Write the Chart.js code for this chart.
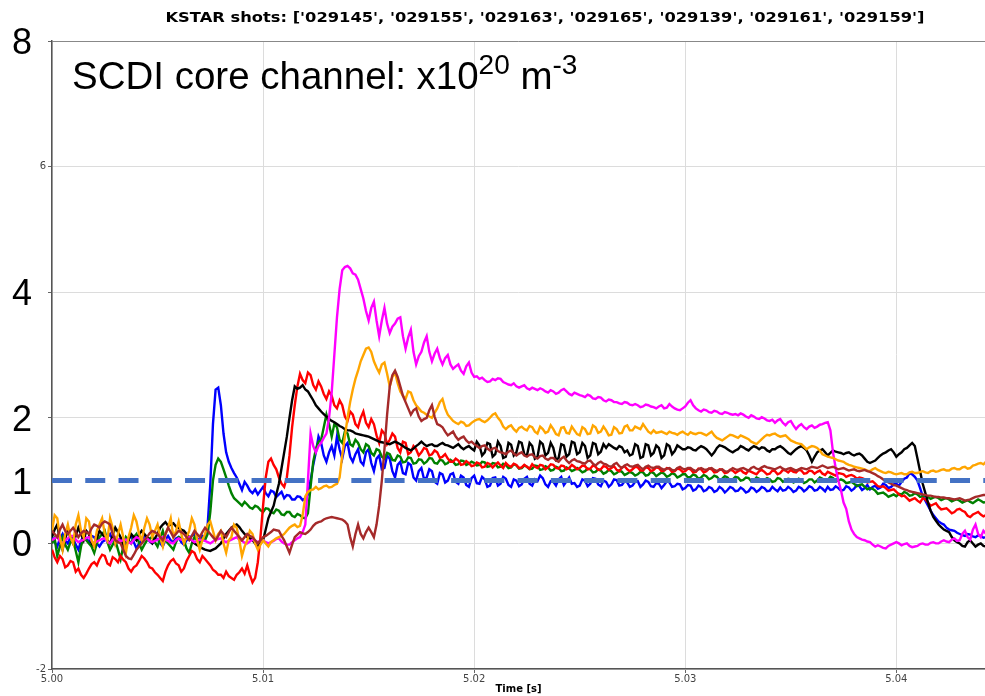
<!DOCTYPE html>
<html>
<head>
<meta charset="utf-8">
<script src="https://cdn.jsdelivr.net/npm/chart.js@4.4.1/dist/chart.umd.min.js"></script>
<style>
  html, body { margin: 0; padding: 0; background: #ffffff; }
  #wrap { width: 985px; height: 696px; position: relative; }
  canvas { display: block; }
</style>
</head>
<body>
<div id="wrap"><canvas id="chart" width="985" height="696"></canvas></div>
<script>
// Line-integrated core density from the SCDI core channel, one trace per KSTAR shot.
const shots = ['029145', '029155', '029163', '029165', '029139', '029161', '029159'];

// Common sampling: 5.000 s onward, one sample every 0.125 ms.
const tStart = 5.0;
const tStep = 0.000125;

const shot029145 = [ // blue
  0.10, 0.02, -0.05, 0.08, 0.15, 0.05, 0.00, 0.10, 0.08, -0.02, -0.10, 0.04, 0.12, 0.08, 0.02, 0.12, 0.10, 0.00, -0.05, 0.02,
  0.05, 0.10, 0.15, 0.05, -0.02, 0.06, 0.08, 0.02, 0.00, 0.08, 0.12, 0.02, -0.08, 0.00, 0.05, 0.12, 0.10, 0.03, 0.00, 0.05,
  0.07, 0.00, -0.05, 0.06, 0.12, 0.05, 0.03, 0.08, 0.10, 0.02, -0.02, 0.05, 0.08, 0.12, 0.15, 0.08, 0.05, 0.12, 0.10, 0.30,
  0.95, 1.90, 2.45, 2.48, 2.20, 1.75, 1.45, 1.30, 1.20, 1.12, 1.05, 0.95, 0.85, 0.98, 0.92, 0.84, 0.80, 0.86, 0.78, 0.84,
  0.90, 0.80, 0.75, 0.84, 0.82, 0.74, 0.78, 0.82, 0.72, 0.77, 0.76, 0.70, 0.70, 0.75, 0.74, 0.69, 0.72, 0.78, 1.00, 1.25,
  1.45, 1.70, 1.60, 1.40, 1.30, 1.45, 1.55, 1.40, 1.70, 1.50, 1.35, 1.55, 1.60, 1.38, 1.30, 1.42, 1.50, 1.30, 1.25, 1.45,
  1.50, 1.28, 1.15, 1.35, 1.40, 1.18, 1.20, 1.40, 1.35, 1.15, 1.05, 1.25, 1.30, 1.12, 1.10, 1.28, 1.25, 1.05, 1.00, 1.15,
  1.20, 1.02, 1.05, 1.18, 1.15, 0.98, 0.95, 1.12, 1.10, 0.97, 1.00, 1.10, 1.12, 0.98, 0.95, 1.08, 1.05, 0.93, 0.90, 1.04,
  1.08, 0.96, 0.95, 1.06, 1.02, 0.90, 0.92, 1.04, 1.05, 0.92, 0.95, 1.06, 1.03, 0.93, 0.90, 1.02, 1.00, 0.91, 0.94, 1.03,
  1.06, 0.95, 0.92, 1.02, 0.99, 1.08, 1.04, 0.94, 0.90, 0.99, 0.98, 0.92, 1.02, 1.06, 0.93, 0.99, 1.05, 0.95, 0.96, 0.90,
  0.92, 1.02, 1.00, 0.91, 0.95, 1.04, 1.03, 0.94, 0.91, 1.00, 0.98, 0.90, 0.94, 1.02, 1.01, 0.92, 0.93, 0.99, 0.97, 0.90,
  0.92, 0.98, 0.99, 0.90, 0.94, 1.00, 0.98, 0.91, 0.90, 0.96, 0.95, 0.88, 0.93, 0.99, 0.97, 0.90, 0.91, 0.95, 0.94, 0.86,
  0.88, 0.93, 0.92, 0.84, 0.86, 0.92, 0.90, 0.83, 0.85, 0.90, 0.88, 0.82, 0.84, 0.90, 0.87, 0.81, 0.85, 0.90, 0.88, 0.83,
  0.84, 0.89, 0.86, 0.81, 0.83, 0.89, 0.87, 0.82, 0.85, 0.90, 0.88, 0.83, 0.84, 0.90, 0.86, 0.83, 0.89, 0.84, 0.85, 0.90,
  0.87, 0.82, 0.84, 0.90, 0.88, 0.83, 0.86, 0.91, 0.89, 0.84, 0.85, 0.90, 0.87, 0.83, 0.90, 0.85, 0.86, 0.91, 0.88, 0.84,
  0.85, 0.91, 0.89, 0.84, 0.87, 0.93, 0.91, 0.85, 0.88, 0.93, 0.86, 0.90, 0.92, 0.87, 0.89, 0.95, 0.93, 0.88, 0.90, 0.94,
  0.95, 0.92, 0.98, 1.03, 1.05, 1.12, 1.10, 1.06, 1.00, 0.88, 0.75, 0.68, 0.60, 0.52, 0.45, 0.40, 0.35, 0.32, 0.30, 0.25,
  0.22, 0.21, 0.20, 0.17, 0.15, 0.13, 0.12, 0.15, 0.14, 0.11, 0.10, 0.13, 0.12, 0.09, 0.10, 0.12
];

const shot029155 = [ // green
  0.00, 0.08, -0.20, -0.05, 0.10, -0.02, -0.10, 0.02, 0.05, -0.12, -0.30, -0.05, 0.10, 0.05, 0.00, -0.05, -0.15, 0.00, 0.10, 0.15,
  0.20, 0.02, -0.10, -0.02, 0.05, -0.10, -0.25, -0.05, 0.10, 0.05, 0.00, 0.10, 0.15, 0.00, -0.10, -0.02, 0.05, 0.08, 0.10, 0.02,
  -0.05, 0.08, 0.20, 0.05, 0.00, -0.05, -0.10, 0.02, 0.10, 0.08, 0.05, -0.08, -0.15, 0.00, 0.10, 0.05, 0.00, 0.08, 0.05, 0.15,
  0.50, 1.00, 1.25, 1.35, 1.30, 1.18, 1.05, 0.92, 0.80, 0.72, 0.68, 0.64, 0.60, 0.66, 0.62, 0.57, 0.55, 0.60, 0.58, 0.53,
  0.50, 0.56, 0.55, 0.50, 0.48, 0.54, 0.52, 0.46, 0.45, 0.50, 0.50, 0.44, 0.42, 0.47, 0.45, 0.41, 0.40, 0.48, 0.90, 1.30,
  1.50, 1.62, 1.65, 1.85, 2.05, 1.90, 1.70, 1.90, 1.85, 1.65, 1.60, 1.78, 1.75, 1.58, 1.55, 1.65, 1.60, 1.50, 1.45, 1.58,
  1.55, 1.44, 1.40, 1.50, 1.48, 1.38, 1.35, 1.44, 1.42, 1.33, 1.32, 1.40, 1.38, 1.29, 1.30, 1.37, 1.36, 1.27, 1.28, 1.34,
  1.33, 1.27, 1.30, 1.36, 1.35, 1.28, 1.27, 1.33, 1.32, 1.26, 1.28, 1.33, 1.30, 1.25, 1.26, 1.32, 1.31, 1.25, 1.27, 1.30,
  1.28, 1.24, 1.25, 1.30, 1.29, 1.22, 1.23, 1.28, 1.27, 1.21, 1.22, 1.27, 1.25, 1.20, 1.21, 1.26, 1.24, 1.19, 1.20, 1.24,
  1.22, 1.18, 1.19, 1.24, 1.23, 1.17, 1.18, 1.23, 1.21, 1.16, 1.17, 1.22, 1.20, 1.15, 1.16, 1.21, 1.19, 1.15, 1.17, 1.20,
  1.17, 1.13, 1.15, 1.19, 1.18, 1.13, 1.14, 1.18, 1.16, 1.11, 1.13, 1.17, 1.15, 1.10, 1.12, 1.16, 1.14, 1.09, 1.11, 1.14,
  1.12, 1.08, 1.10, 1.14, 1.13, 1.08, 1.09, 1.14, 1.12, 1.07, 1.10, 1.13, 1.11, 1.06, 1.08, 1.12, 1.10, 1.05, 1.07, 1.10,
  1.10, 1.05, 1.06, 1.10, 1.08, 1.03, 1.05, 1.09, 1.07, 1.02, 1.04, 1.08, 1.06, 1.01, 1.03, 1.07, 1.05, 1.00, 1.02, 1.06,
  1.05, 1.00, 1.01, 1.05, 1.04, 0.99, 1.00, 1.05, 1.03, 0.99, 1.01, 1.04, 1.02, 0.98, 0.99, 1.04, 1.03, 0.98, 1.00, 1.03,
  1.02, 0.97, 0.99, 1.03, 1.01, 0.96, 0.98, 1.02, 1.02, 0.97, 1.00, 1.05, 1.03, 0.99, 1.01, 1.06, 1.04, 0.99, 1.00, 1.02,
  1.00, 0.96, 0.97, 0.98, 0.95, 0.91, 0.93, 0.94, 0.90, 0.86, 0.88, 0.87, 0.84, 0.79, 0.80, 0.81, 0.78, 0.74, 0.76, 0.78,
  0.75, 0.79, 0.78, 0.82, 0.80, 0.76, 0.77, 0.80, 0.78, 0.74, 0.75, 0.76, 0.74, 0.71, 0.73, 0.74, 0.72, 0.69, 0.71, 0.72,
  0.70, 0.67, 0.69, 0.70, 0.68, 0.65, 0.67, 0.69, 0.66, 0.64, 0.67, 0.70, 0.68, 0.65, 0.66, 0.67
];

const shot029163 = [ // red
  -0.10, -0.22, -0.30, -0.20, -0.25, -0.38, -0.35, -0.28, -0.30, -0.45, -0.40, -0.50, -0.55, -0.48, -0.40, -0.33, -0.30, -0.35, -0.25, -0.18,
  -0.20, -0.32, -0.35, -0.22, -0.25, -0.30, -0.20, -0.26, -0.30, -0.40, -0.45, -0.38, -0.35, -0.28, -0.20, -0.24, -0.30, -0.38, -0.40, -0.46,
  -0.50, -0.55, -0.60, -0.45, -0.35, -0.28, -0.25, -0.32, -0.35, -0.45, -0.40, -0.28, -0.20, -0.12, -0.15, -0.25, -0.30, -0.20, -0.25, -0.30,
  -0.35, -0.42, -0.45, -0.50, -0.50, -0.55, -0.45, -0.52, -0.55, -0.58, -0.50, -0.46, -0.40, -0.48, -0.35, -0.50, -0.62, -0.55, -0.30, 0.10,
  0.60, 1.05, 1.30, 1.35, 1.25, 1.18, 1.05, 0.95, 0.90, 1.05, 1.40, 1.85, 2.20, 2.50, 2.70, 2.60, 2.55, 2.72, 2.68, 2.52,
  2.45, 2.58, 2.50, 2.38, 2.30, 2.42, 2.35, 2.20, 2.15, 2.28, 2.20, 2.02, 1.95, 2.10, 2.05, 1.90, 1.85, 2.00, 2.10, 1.92,
  1.85, 1.98, 1.90, 1.72, 1.60, 1.80, 1.75, 1.58, 1.65, 1.75, 1.70, 1.52, 1.45, 1.62, 1.60, 1.42, 1.45, 1.55, 1.50, 1.40,
  1.45, 1.52, 1.50, 1.40, 1.42, 1.48, 1.45, 1.36, 1.38, 1.42, 1.35, 1.30, 1.30, 1.35, 1.32, 1.25, 1.26, 1.31, 1.28, 1.23,
  1.24, 1.29, 1.27, 1.21, 1.22, 1.28, 1.26, 1.21, 1.25, 1.29, 1.24, 1.20, 1.28, 1.24, 1.22, 1.27, 1.25, 1.20, 1.21, 1.25,
  1.22, 1.19, 1.26, 1.22, 1.20, 1.25, 1.24, 1.18, 1.21, 1.26, 1.25, 1.20, 1.19, 1.24, 1.23, 1.18, 1.20, 1.25, 1.22, 1.18,
  1.20, 1.24, 1.23, 1.18, 1.19, 1.24, 1.22, 1.17, 1.18, 1.23, 1.22, 1.17, 1.20, 1.23, 1.17, 1.15, 1.21, 1.23, 1.18, 1.15,
  1.18, 1.22, 1.21, 1.16, 1.16, 1.21, 1.20, 1.15, 1.17, 1.21, 1.20, 1.15, 1.16, 1.20, 1.19, 1.14, 1.15, 1.19, 1.18, 1.14,
  1.15, 1.19, 1.18, 1.13, 1.14, 1.19, 1.18, 1.13, 1.15, 1.19, 1.18, 1.13, 1.14, 1.18, 1.17, 1.12, 1.13, 1.17, 1.16, 1.12,
  1.15, 1.17, 1.13, 1.11, 1.16, 1.14, 1.12, 1.10, 1.15, 1.17, 1.14, 1.10, 1.11, 1.16, 1.15, 1.10, 1.12, 1.17, 1.16, 1.13,
  1.17, 1.14, 1.13, 1.17, 1.16, 1.11, 1.12, 1.16, 1.15, 1.11, 1.14, 1.16, 1.11, 1.09, 1.14, 1.12, 1.10, 1.08, 1.12, 1.11,
  1.10, 1.06, 1.08, 1.09, 1.07, 1.03, 1.05, 1.04, 1.02, 0.97, 0.98, 0.99, 0.95, 0.91, 0.90, 0.91, 0.88, 0.84, 0.85, 0.86,
  0.82, 0.78, 0.75, 0.76, 0.72, 0.68, 0.70, 0.72, 0.68, 0.65, 0.72, 0.70, 0.65, 0.60, 0.62, 0.64, 0.58, 0.54, 0.55, 0.56,
  0.52, 0.48, 0.50, 0.54, 0.55, 0.52, 0.50, 0.44, 0.42, 0.46, 0.48, 0.50, 0.46, 0.43, 0.45, 0.47
];

const shot029165 = [ // black
  0.10, 0.22, 0.30, 0.05, -0.10, 0.08, 0.20, 0.10, 0.00, 0.12, 0.25, 0.15, 0.05, 0.20, 0.15, 0.00, -0.05, 0.08, 0.20, 0.15,
  0.10, 0.05, 0.00, 0.12, 0.25, 0.18, 0.10, -0.02, -0.05, 0.05, 0.15, 0.10, 0.05, 0.14, 0.20, 0.15, 0.10, 0.05, 0.00, 0.08,
  0.15, 0.25, 0.30, 0.34, 0.28, 0.30, 0.32, 0.27, 0.25, 0.22, 0.20, 0.15, 0.10, 0.05, 0.00, -0.03, -0.05, -0.08, -0.10, -0.11,
  -0.12, -0.10, -0.08, -0.04, 0.00, 0.08, 0.15, 0.20, 0.25, 0.28, 0.30, 0.26, 0.20, 0.15, 0.10, 0.08, 0.05, 0.00, -0.05, 0.00,
  0.05, 0.22, 0.40, 0.50, 0.60, 0.78, 0.95, 1.20, 1.45, 1.70, 2.00, 2.28, 2.50, 2.46, 2.48, 2.52, 2.45, 2.42, 2.35, 2.28,
  2.20, 2.15, 2.10, 2.06, 2.02, 1.98, 1.95, 1.93, 1.90, 1.87, 1.85, 1.82, 1.80, 1.80, 1.78, 1.75, 1.74, 1.73, 1.72, 1.71,
  1.70, 1.68, 1.66, 1.64, 1.62, 1.61, 1.60, 1.59, 1.58, 1.60, 1.62, 1.60, 1.58, 1.55, 1.52, 1.50, 1.48, 1.51, 1.55, 1.58,
  1.62, 1.58, 1.55, 1.57, 1.58, 1.55, 1.55, 1.58, 1.60, 1.57, 1.56, 1.54, 1.52, 1.55, 1.58, 1.53, 1.50, 1.53, 1.55, 1.51,
  1.48, 1.62, 1.56, 1.40, 1.45, 1.60, 1.58, 1.38, 1.42, 1.62, 1.55, 1.36, 1.38, 1.60, 1.57, 1.40, 1.45, 1.62, 1.60, 1.42,
  1.40, 1.60, 1.55, 1.35, 1.38, 1.62, 1.58, 1.40, 1.44, 1.60, 1.52, 1.33, 1.36, 1.58, 1.56, 1.38, 1.42, 1.62, 1.60, 1.42,
  1.45, 1.60, 1.55, 1.36, 1.40, 1.60, 1.58, 1.42, 1.46, 1.58, 1.52, 1.58, 1.55, 1.52, 1.50, 1.55, 1.53, 1.45, 1.48, 1.40,
  1.42, 1.58, 1.55, 1.36, 1.38, 1.58, 1.56, 1.40, 1.44, 1.56, 1.52, 1.36, 1.40, 1.58, 1.55, 1.42, 1.47, 1.56, 1.53, 1.50,
  1.50, 1.53, 1.52, 1.49, 1.48, 1.52, 1.55, 1.53, 1.50, 1.45, 1.40, 1.45, 1.52, 1.56, 1.55, 1.53, 1.50, 1.47, 1.45, 1.48,
  1.50, 1.55, 1.53, 1.50, 1.48, 1.52, 1.55, 1.53, 1.50, 1.53, 1.52, 1.48, 1.46, 1.50, 1.50, 1.53, 1.55, 1.52, 1.48, 1.44,
  1.42, 1.46, 1.50, 1.53, 1.55, 1.52, 1.48, 1.40, 1.30, 1.38, 1.45, 1.48, 1.50, 1.45, 1.40, 1.44, 1.48, 1.46, 1.45, 1.44,
  1.42, 1.44, 1.45, 1.42, 1.40, 1.42, 1.43, 1.40, 1.35, 1.30, 1.28, 1.30, 1.32, 1.36, 1.40, 1.43, 1.45, 1.48, 1.50, 1.45,
  1.38, 1.42, 1.45, 1.50, 1.52, 1.56, 1.60, 1.55, 1.35, 1.15, 0.95, 0.80, 0.65, 0.52, 0.42, 0.36, 0.30, 0.26, 0.22, 0.20,
  0.18, 0.10, 0.05, 0.02, 0.00, -0.04, -0.05, 0.02, 0.05, 0.00, -0.05, -0.02, 0.00, -0.04, -0.05, -0.02
];

const shot029139 = [ // magenta
  0.05, 0.08, 0.10, 0.03, 0.00, 0.05, 0.08, 0.12, 0.12, 0.06, 0.02, 0.04, 0.06, 0.09, 0.10, 0.04, 0.00, 0.03, 0.05, 0.07,
  0.08, 0.03, 0.00, 0.06, 0.10, 0.07, 0.04, 0.05, 0.06, 0.02, 0.00, 0.06, 0.10, 0.08, 0.05, 0.06, 0.08, 0.04, 0.02, 0.04,
  0.06, 0.09, 0.10, 0.06, 0.04, 0.01, 0.00, 0.05, 0.08, 0.06, 0.05, 0.08, 0.10, 0.05, 0.02, 0.04, 0.06, 0.05, 0.04, 0.02,
  0.00, 0.03, 0.05, 0.07, 0.08, 0.04, 0.02, 0.04, 0.06, 0.08, 0.10, 0.06, 0.04, 0.01, 0.00, 0.03, 0.06, 0.04, 0.02, 0.04,
  0.05, 0.02, 0.00, 0.02, 0.04, 0.07, 0.08, 0.03, 0.00, -0.02, -0.02, 0.02, 0.05, 0.08, 0.10, 0.18, 0.30, 1.00, 1.75, 1.55,
  1.45, 1.55, 1.60, 1.68, 1.75, 2.00, 2.40, 3.00, 3.60, 4.05, 4.35, 4.40, 4.42, 4.38, 4.30, 4.28, 4.20, 4.05, 3.90, 3.70,
  3.55, 3.75, 3.85, 3.55, 3.30, 3.55, 3.75, 3.50, 3.35, 3.45, 3.50, 3.58, 3.60, 3.30, 3.10, 3.28, 3.40, 3.05, 2.85, 2.98,
  3.05, 3.20, 3.30, 3.05, 2.90, 3.02, 3.10, 2.95, 2.85, 2.95, 3.00, 2.85, 2.78, 2.82, 2.85, 2.75, 2.70, 2.82, 2.88, 2.72,
  2.65, 2.66, 2.62, 2.64, 2.60, 2.57, 2.58, 2.62, 2.60, 2.63, 2.62, 2.57, 2.55, 2.53, 2.52, 2.55, 2.50, 2.48, 2.50, 2.52,
  2.47, 2.45, 2.48, 2.46, 2.44, 2.47, 2.45, 2.42, 2.40, 2.44, 2.42, 2.38, 2.40, 2.44, 2.46, 2.42, 2.38, 2.36, 2.40, 2.38,
  2.36, 2.35, 2.33, 2.37, 2.35, 2.31, 2.30, 2.33, 2.32, 2.28, 2.26, 2.29, 2.28, 2.25, 2.25, 2.23, 2.22, 2.25, 2.24, 2.21,
  2.20, 2.22, 2.20, 2.17, 2.18, 2.21, 2.20, 2.18, 2.17, 2.15, 2.18, 2.20, 2.15, 2.16, 2.22, 2.18, 2.15, 2.13, 2.12, 2.15,
  2.18, 2.24, 2.28, 2.20, 2.15, 2.12, 2.10, 2.13, 2.12, 2.09, 2.08, 2.11, 2.10, 2.07, 2.06, 2.09, 2.08, 2.06, 2.05, 2.06,
  2.04, 2.07, 2.05, 2.02, 2.00, 2.04, 2.02, 1.99, 1.98, 2.01, 1.99, 1.96, 1.95, 1.97, 1.92, 1.96, 1.98, 1.92, 1.88, 1.93,
  1.95, 1.88, 1.82, 1.87, 1.90, 1.85, 1.82, 1.86, 1.88, 1.84, 1.86, 1.89, 1.90, 1.92, 1.93, 1.80, 1.45, 1.20, 1.00, 0.85,
  0.65, 0.55, 0.35, 0.22, 0.15, 0.10, 0.08, 0.06, 0.05, 0.03, 0.02, -0.02, -0.05, -0.03, -0.05, -0.07, -0.08, -0.04, -0.02, 0.00,
  0.02, 0.00, -0.03, -0.01, 0.00, -0.04, -0.06, -0.05, -0.04, -0.01, 0.00, -0.02, -0.02, 0.01, 0.02, 0.00, 0.00, 0.03, 0.05, 0.03,
  0.02, 0.06, 0.08, 0.04, 0.05, 0.15, 0.20, 0.10, 0.06, 0.22, 0.30, 0.15, 0.10, 0.20, 0.15, 0.12
];

const shot029161 = [ // orange
  0.20, 0.45, 0.40, 0.10, -0.10, 0.15, 0.30, 0.10, 0.00, 0.30, 0.45, 0.20, 0.10, 0.40, 0.35, 0.05, -0.05, 0.20, 0.30, 0.40,
  0.15, 0.05, 0.40, 0.25, 0.00, 0.15, 0.30, 0.10, -0.15, 0.10, 0.25, 0.45, 0.35, 0.15, 0.05, 0.25, 0.40, 0.30, 0.10, 0.20,
  0.30, 0.10, -0.05, 0.15, 0.25, 0.40, 0.10, 0.20, 0.35, 0.15, 0.00, 0.10, 0.20, 0.40, 0.30, 0.05, -0.10, 0.05, 0.15, 0.30,
  0.35, 0.20, 0.05, 0.15, 0.20, 0.00, -0.15, 0.05, 0.10, 0.30, 0.25, 0.05, -0.20, -0.05, 0.05, 0.20, 0.15, 0.00, -0.10, -0.02,
  0.05, 0.00, -0.05, 0.02, 0.05, 0.08, 0.10, 0.12, 0.15, 0.20, 0.25, 0.28, 0.30, 0.26, 0.28, 0.45, 0.75, 0.82, 0.85, 0.86,
  0.90, 0.86, 0.88, 0.91, 0.92, 0.89, 0.90, 0.93, 0.95, 1.05, 1.40, 1.70, 2.00, 2.25, 2.45, 2.62, 2.75, 2.90, 3.00, 3.10,
  3.12, 3.05, 2.90, 2.80, 2.72, 2.85, 2.88, 2.70, 2.50, 2.65, 2.72, 2.55, 2.42, 2.35, 2.30, 2.42, 2.40, 2.28, 2.20, 2.15,
  2.10, 2.08, 2.05, 2.02, 2.00, 2.08, 2.15, 2.25, 2.30, 2.15, 2.05, 2.00, 1.95, 1.92, 1.90, 1.94, 1.92, 1.87, 1.88, 1.92,
  1.95, 1.97, 1.98, 1.95, 1.93, 1.96, 2.00, 2.05, 2.07, 2.00, 1.95, 1.86, 1.82, 1.86, 1.88, 1.82, 1.78, 1.84, 1.86, 1.82,
  1.80, 1.87, 1.85, 1.78, 1.75, 1.86, 1.82, 1.76, 1.78, 1.88, 1.82, 1.74, 1.72, 1.84, 1.85, 1.76, 1.75, 1.86, 1.80, 1.74,
  1.72, 1.85, 1.82, 1.74, 1.75, 1.88, 1.85, 1.76, 1.78, 1.86, 1.80, 1.72, 1.73, 1.85, 1.82, 1.75, 1.76, 1.86, 1.88, 1.80,
  1.80, 1.86, 1.84, 1.82, 1.90, 1.84, 1.78, 1.75, 1.80, 1.76, 1.77, 1.78, 1.76, 1.74, 1.78, 1.76, 1.75, 1.73, 1.76, 1.78,
  1.75, 1.73, 1.77, 1.75, 1.74, 1.76, 1.76, 1.74, 1.72, 1.75, 1.78, 1.72, 1.68, 1.66, 1.64, 1.67, 1.70, 1.73, 1.72, 1.70,
  1.68, 1.72, 1.70, 1.68, 1.66, 1.62, 1.60, 1.58, 1.62, 1.66, 1.70, 1.73, 1.72, 1.74, 1.75, 1.72, 1.70, 1.71, 1.72, 1.68,
  1.64, 1.62, 1.60, 1.59, 1.58, 1.54, 1.50, 1.53, 1.55, 1.54, 1.52, 1.48, 1.42, 1.40, 1.38, 1.37, 1.36, 1.34, 1.32, 1.31,
  1.30, 1.27, 1.25, 1.24, 1.22, 1.21, 1.20, 1.19, 1.18, 1.16, 1.15, 1.18, 1.20, 1.17, 1.15, 1.13, 1.12, 1.14, 1.13, 1.11,
  1.10, 1.11, 1.12, 1.10, 1.10, 1.13, 1.14, 1.12, 1.12, 1.14, 1.15, 1.13, 1.12, 1.15, 1.16, 1.14, 1.15, 1.17, 1.18, 1.16,
  1.16, 1.19, 1.20, 1.18, 1.18, 1.21, 1.22, 1.19, 1.20, 1.24, 1.25, 1.27, 1.28, 1.26, 1.30, 1.29
];

const shot029159 = [ // brown
  0.20, 0.15, 0.10, 0.22, 0.30, 0.20, 0.15, 0.20, 0.25, 0.18, 0.10, 0.16, 0.20, 0.18, 0.15, 0.24, 0.30, 0.28, 0.25, 0.32,
  0.35, 0.33, 0.30, 0.15, 0.05, 0.02, 0.00, -0.10, -0.20, -0.24, -0.25, -0.18, -0.10, -0.05, 0.00, 0.05, 0.10, 0.16, 0.20, 0.18,
  0.15, 0.10, 0.05, 0.15, 0.25, 0.18, 0.10, 0.15, 0.20, 0.18, 0.15, 0.10, 0.05, 0.12, 0.20, 0.15, 0.10, 0.18, 0.25, 0.20,
  0.15, 0.10, 0.05, 0.12, 0.20, 0.15, 0.10, 0.18, 0.25, 0.20, 0.15, 0.10, 0.05, 0.10, 0.15, 0.12, 0.10, 0.05, 0.00, 0.05,
  0.10, 0.12, 0.15, 0.18, 0.22, 0.21, 0.20, 0.12, 0.05, -0.05, -0.15, -0.02, 0.10, 0.14, 0.18, 0.16, 0.15, 0.18, 0.22, 0.28,
  0.32, 0.34, 0.35, 0.38, 0.40, 0.41, 0.42, 0.41, 0.40, 0.39, 0.38, 0.35, 0.30, 0.10, -0.05, 0.15, 0.30, 0.15, 0.08, 0.18,
  0.25, 0.18, 0.10, 0.30, 0.60, 1.00, 1.50, 2.05, 2.50, 2.68, 2.75, 2.65, 2.50, 2.35, 2.25, 2.15, 2.05, 2.12, 2.15, 2.02,
  1.95, 1.98, 2.00, 2.12, 2.20, 2.02, 1.90, 1.88, 1.85, 1.78, 1.72, 1.75, 1.78, 1.70, 1.65, 1.68, 1.70, 1.64, 1.60, 1.62,
  1.58, 1.55, 1.52, 1.55, 1.56, 1.51, 1.48, 1.51, 1.52, 1.47, 1.45, 1.44, 1.42, 1.46, 1.48, 1.43, 1.40, 1.43, 1.45, 1.40,
  1.38, 1.41, 1.42, 1.37, 1.35, 1.39, 1.40, 1.35, 1.33, 1.36, 1.36, 1.32, 1.30, 1.35, 1.38, 1.32, 1.28, 1.32, 1.34, 1.31,
  1.30, 1.28, 1.27, 1.31, 1.32, 1.27, 1.24, 1.28, 1.30, 1.27, 1.26, 1.23, 1.22, 1.26, 1.28, 1.23, 1.20, 1.24, 1.26, 1.23,
  1.22, 1.24, 1.25, 1.21, 1.18, 1.22, 1.24, 1.21, 1.20, 1.22, 1.22, 1.19, 1.17, 1.19, 1.20, 1.17, 1.16, 1.20, 1.22, 1.19,
  1.18, 1.20, 1.20, 1.17, 1.15, 1.18, 1.20, 1.18, 1.17, 1.19, 1.20, 1.17, 1.15, 1.17, 1.18, 1.15, 1.14, 1.17, 1.20, 1.18,
  1.17, 1.19, 1.20, 1.18, 1.16, 1.20, 1.22, 1.19, 1.18, 1.21, 1.23, 1.21, 1.20, 1.19, 1.18, 1.20, 1.22, 1.19, 1.17, 1.19,
  1.20, 1.18, 1.16, 1.18, 1.20, 1.19, 1.18, 1.20, 1.22, 1.21, 1.20, 1.22, 1.24, 1.22, 1.20, 1.21, 1.22, 1.20, 1.18, 1.19,
  1.20, 1.18, 1.16, 1.17, 1.18, 1.16, 1.15, 1.16, 1.17, 1.15, 1.14, 1.12, 1.10, 1.07, 1.05, 1.02, 1.00, 0.97, 0.95, 0.93,
  0.92, 0.90, 0.88, 0.86, 0.85, 0.83, 0.82, 0.81, 0.80, 0.79, 0.78, 0.77, 0.76, 0.76, 0.75, 0.74, 0.74, 0.73, 0.73, 0.72,
  0.72, 0.71, 0.70, 0.71, 0.72, 0.70, 0.68, 0.69, 0.70, 0.72, 0.74, 0.75, 0.76, 0.77, 0.77, 0.76
];

const seriesValues = [shot029145, shot029155, shot029163, shot029165, shot029139, shot029161, shot029159];

// Axis ticks and labels
const xTicks = [5.00, 5.01, 5.02, 5.03, 5.04];
const yTicks = [-2, 0, 2, 4, 6, 8];
const ySmallLabels = { '-2': '-2', '6': '6' };
const yBigLabels = [8, 4, 2, 1, 0];
const thresholdLevel = 1;

const titleText = "KSTAR shots: ['029145', '029155', '029163', '029165', '029139', '029161', '029159']";
const noteMain = 'SCDI core channel: x10';
const noteExp1 = '20';
const noteUnit = ' m';
const noteExp2 = '-3';
const xAxisTitle = 'Time [s]';

// Styling
const lineColors = ['#0000ff', '#008000', '#ff0000', '#000000', '#ff00ff', '#ffa500', '#a52a2a'];
const drawOrder = [7, 6, 5, 4, 3, 2, 1];
const X_MIN = 5.0, X_MAX = 5.0442;

const datasets = seriesValues.map((vals, k) => ({
  label: shots[k],
  data: vals.map((v, i) => ({ x: +(tStart + i * tStep).toFixed(6), y: v })),
  borderColor: lineColors[k],
  borderWidth: 2.4,
  pointRadius: 0,
  tension: 0,
  fill: false,
  order: drawOrder[k]
}));

datasets.push({
  label: 'threshold',
  data: [{ x: X_MIN, y: thresholdLevel }, { x: X_MAX + 0.001, y: thresholdLevel }],
  borderColor: '#4472c4',
  borderWidth: 5,
  borderDash: [20, 13.26],
  borderCapStyle: 'butt',
  pointRadius: 0,
  fill: false,
  order: 0
});

const overlayText = {
  id: 'overlayText',
  afterDraw(chart) {
    const ctx = chart.ctx;
    const yScale = chart.scales.y;
    ctx.save();

    // figure title, fitted to its span above the plot
    ctx.fillStyle = '#000000';
    ctx.font = 'bold 14px "DejaVu Sans"';
    const w = ctx.measureText(titleText).width;
    ctx.translate(545, 22);
    ctx.scale(759 / w, 1);
    ctx.textAlign = 'center';
    ctx.textBaseline = 'alphabetic';
    ctx.fillText(titleText, 0, 0);
    ctx.setTransform(1, 0, 0, 1, 0, 0);

    // large value labels on the left
    ctx.font = '36px "Liberation Sans"';
    ctx.textAlign = 'center';
    for (const v of yBigLabels) {
      const y = yScale.getPixelForValue(v);
      ctx.fillText(String(v), 22, y + 13);
    }

    // channel note with superscripted exponents
    ctx.textAlign = 'left';
    let x = 72;
    const base = 89;
    ctx.font = '38.5px "Liberation Sans"';
    ctx.fillText(noteMain, x, base);
    x += ctx.measureText(noteMain).width;
    ctx.font = '28px "Liberation Sans"';
    ctx.fillText(noteExp1, x, base - 15);
    x += ctx.measureText(noteExp1).width;
    ctx.font = '38.5px "Liberation Sans"';
    ctx.fillText(noteUnit, x, base);
    x += ctx.measureText(noteUnit).width;
    ctx.font = '28px "Liberation Sans"';
    ctx.fillText(noteExp2, x, base - 15);
    ctx.restore();
  }
};

new Chart(document.getElementById('chart'), {
  type: 'line',
  data: { datasets },
  options: {
    responsive: false,
    animation: false,
    events: [],
    layout: { padding: { top: 41, left: 0, right: 0, bottom: 0 } },
    plugins: { legend: { display: false }, tooltip: { enabled: false }, title: { display: false } },
    scales: {
      x: {
        type: 'linear',
        min: X_MIN,
        max: X_MAX,
        afterBuildTicks: s => { s.ticks = xTicks.map(v => ({ value: v })); },
        afterFit: s => { s.height = 27; },
        ticks: {
          callback: v => Number(v).toFixed(2),
          font: { family: 'DejaVu Sans', size: 10 },
          color: '#444444',
          maxRotation: 0,
          autoSkip: false,
          padding: 0
        },
        grid: { color: '#dcdcdc', lineWidth: 1, tickLength: 4, tickColor: '#666666' },
        border: { color: '#555555', width: 1.5 },
        title: { display: true, text: xAxisTitle, font: { family: 'DejaVu Sans', size: 10, weight: 'bold' }, color: '#000000', padding: { top: 0, bottom: 1 } }
      },
      y: {
        type: 'linear',
        min: -2,
        max: 8,
        afterBuildTicks: s => { s.ticks = yTicks.map(v => ({ value: v })); },
        afterFit: s => { s.width = 52; },
        ticks: {
          callback: v => ySmallLabels[String(v)] || '',
          font: { family: 'DejaVu Sans', size: 10 },
          color: '#444444',
          autoSkip: false,
          padding: 2
        },
        grid: {
          color: c => (c.tick && c.tick.value === 8) ? '#888888' : '#dcdcdc',
          lineWidth: 1,
          tickLength: 4,
          tickColor: '#666666'
        },
        border: { color: '#555555', width: 1.5 }
      }
    }
  },
  plugins: [overlayText]
});
</script>
</body>
</html>
